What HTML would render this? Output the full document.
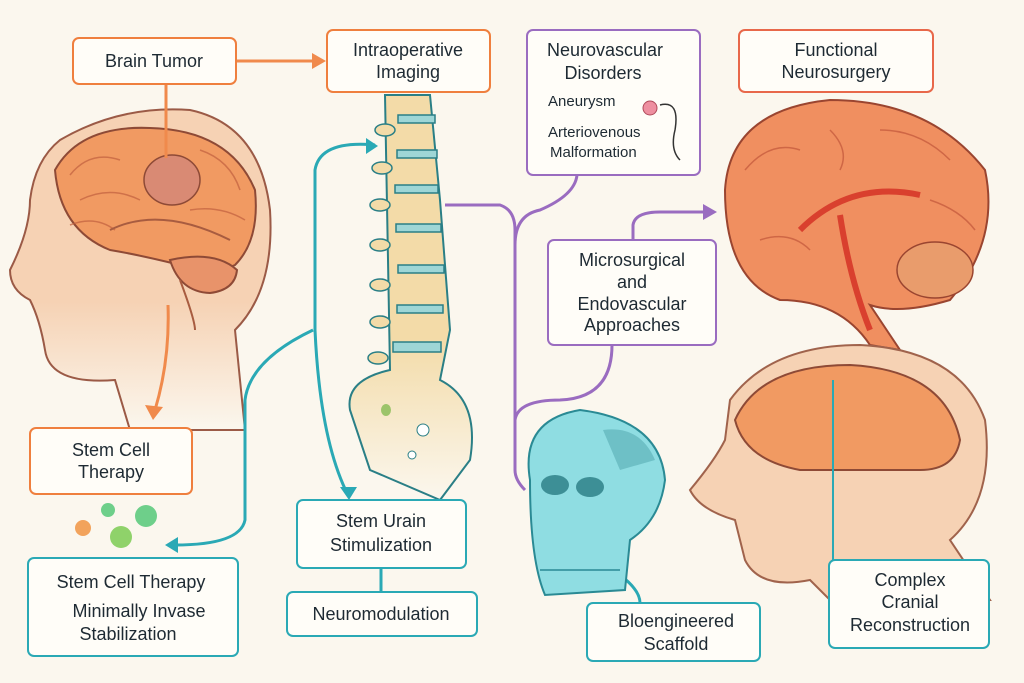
<!DOCTYPE html>
<html><head><meta charset="utf-8"><style>
html,body{margin:0;padding:0;background:#fbf7ee;}
svg{display:block}
text{font-family:"Liberation Sans",sans-serif;fill:#1e2a33;}
</style></head><body>
<svg width="1024" height="683" viewBox="0 0 1024 683" xmlns="http://www.w3.org/2000/svg">
<rect width="1024" height="683" fill="#fbf7ee"/>
<defs>
<linearGradient id="fadeL" x1="0" y1="0" x2="0" y2="1"><stop offset="0.6" stop-color="#f6d2b4"/><stop offset="1" stop-color="#fbf7ee"/></linearGradient>
<linearGradient id="fadeS" x1="0" y1="0" x2="0" y2="1"><stop offset="0.6" stop-color="#f3dba8"/><stop offset="1" stop-color="#fbf7ee"/></linearGradient>
</defs>
<!-- left head -->
<path d="M60 140 Q120 105 190 110 Q260 125 270 210 Q275 290 235 330 L245 430 L130 430 L115 380 Q50 385 45 350 Q40 320 30 300 Q10 290 10 270 Q30 230 30 200 Q35 160 60 140Z" fill="url(#fadeL)" stroke="#9b5a46" stroke-width="2"/>
<path d="M55 170 Q80 125 150 128 Q230 130 255 190 Q260 240 235 265 Q200 280 180 265 Q140 255 110 250 Q60 230 55 170Z" fill="#f19a62" stroke="#8e4a36" stroke-width="2"/>
<g stroke="#c0603e" stroke-width="1.5" fill="none" opacity="0.7">
<path d="M70 175 Q90 150 120 160 M80 200 Q110 185 140 200 M200 150 Q230 160 240 190 M190 210 Q220 205 245 220 M70 225 Q95 215 115 230"/>
</g>
<path d="M170 260 Q215 250 237 270 Q235 290 210 293 Q180 292 170 260Z" fill="#e8936a" stroke="#8e4a36" stroke-width="2"/>
<ellipse cx="172" cy="180" rx="28" ry="25" fill="#d98a74" stroke="#8e4a36" stroke-width="1.5"/>
<path d="M110 230 Q160 205 230 240" fill="none" stroke="#a85c40" stroke-width="2"/>
<path d="M180 280 Q195 320 195 330" stroke="#a85c40" stroke-width="2" fill="none"/>
<!-- orange connectors -->
<path d="M236 61 L320 61" stroke="#f08a4c" stroke-width="3" fill="none"/><path d="M312 53 L326 61 L312 69Z" fill="#f08a4c"/>
<path d="M166 84 L166 158" stroke="#f08a4c" stroke-width="3"/>
<path d="M168 305 Q170 360 155 410" stroke="#f08a4c" stroke-width="3" fill="none"/><path d="M145 405 L153 420 L163 407Z" fill="#f08a4c"/>
<!-- spine -->
<path d="M385 95 L430 95 L440 200 L450 330 L440 380 Q480 400 470 460 L440 500 L370 470 L350 410 Q345 380 390 370 Z" fill="url(#fadeS)" stroke="#2a7f86" stroke-width="2"/>
<g fill="#9ed6d6" stroke="#2a7f86" stroke-width="1.5">
<rect x="398" y="115" width="37" height="8"/><rect x="397" y="150" width="40" height="8"/><rect x="395" y="185" width="43" height="8"/><rect x="396" y="224" width="45" height="8"/><rect x="398" y="265" width="46" height="8"/><rect x="397" y="305" width="46" height="8"/><rect x="393" y="342" width="48" height="10"/>
</g>
<g fill="#f3dba8" stroke="#2a7f86" stroke-width="1.5">
<ellipse cx="385" cy="130" rx="10" ry="6"/><ellipse cx="382" cy="168" rx="10" ry="6"/><ellipse cx="380" cy="205" rx="10" ry="6"/><ellipse cx="380" cy="245" rx="10" ry="6"/><ellipse cx="380" cy="285" rx="10" ry="6"/><ellipse cx="380" cy="322" rx="10" ry="6"/><ellipse cx="378" cy="358" rx="10" ry="6"/>
</g>
<ellipse cx="386" cy="410" rx="5" ry="6" fill="#9cc46a"/><circle cx="423" cy="430" r="6" fill="#fff" stroke="#2a7f86"/><circle cx="412" cy="455" r="4" fill="#fff" stroke="#2a7f86"/>
<!-- teal connectors -->
<path d="M375 145 Q320 140 315 170 L315 330 Q320 440 348 495" stroke="#2aa9b5" stroke-width="3" fill="none"/><path d="M340 487 L349 500 L357 487Z" fill="#2aa9b5"/><path d="M366 138 L378 146 L366 154Z" fill="#2aa9b5"/>
<path d="M313 330 Q250 360 245 400 L245 520 Q240 545 175 545" stroke="#2aa9b5" stroke-width="3" fill="none"/><path d="M178 537 L165 545 L178 553Z" fill="#2aa9b5"/>
<path d="M381 568 L381 592" stroke="#2aa9b5" stroke-width="3"/>
<path d="M880 520 Q940 515 935 550" stroke="#2aa9b5" stroke-width="3" fill="none"/><path d="M927 545 L935 558 L943 545Z" fill="#2aa9b5"/>
<path d="M620 575 Q640 590 640 603" stroke="#2aa9b5" stroke-width="3" fill="none"/>
<!-- purple connectors -->
<path d="M445 205 L500 205 Q515 210 515 230 L515 470 Q515 480 525 490" stroke="#9a6cc0" stroke-width="3" fill="none"/>
<path d="M515 245 Q515 215 540 210 Q575 195 577 175" stroke="#9a6cc0" stroke-width="3" fill="none"/>
<path d="M515 420 Q518 400 560 400 Q612 398 612 345" stroke="#9a6cc0" stroke-width="3" fill="none"/>
<path d="M633 255 L633 225 Q635 212 660 212 L705 212" stroke="#9a6cc0" stroke-width="3" fill="none"/><path d="M703 204 L717 212 L703 220Z" fill="#9a6cc0"/>
<!-- skull -->
<path d="M530 480 Q520 420 580 410 Q660 420 665 480 Q660 520 630 540 L625 590 L545 595 Q530 560 530 480Z" fill="#8fdde2" stroke="#2a8a94" stroke-width="2"/>
<ellipse cx="555" cy="485" rx="14" ry="10" fill="#3d8f96"/><ellipse cx="590" cy="487" rx="14" ry="10" fill="#3d8f96"/>
<path d="M603 430 Q640 425 655 460 L620 470 Z" fill="#5fb3bb" opacity="0.7"/>
<path d="M540 570 L620 570" stroke="#2a8a94" stroke-width="1.5"/>
<!-- right top brain -->
<path d="M725 190 Q730 110 830 100 Q930 100 985 170 Q1000 240 950 300 Q900 315 870 305 L900 350 L870 345 Q840 300 780 300 Q725 280 725 190Z" fill="#f08f60" stroke="#9a4530" stroke-width="2"/>
<g stroke="#c0553a" stroke-width="1.5" fill="none" opacity="0.7">
<path d="M745 170 Q770 140 800 150 M760 240 Q790 230 810 250 M880 130 Q920 130 950 160 M930 200 Q960 210 975 230 M830 130 Q850 150 840 170"/>
</g>
<ellipse cx="935" cy="270" rx="38" ry="28" fill="#e99c6c" stroke="#9a4530" stroke-width="1.5"/>
<path d="M800 230 Q850 180 920 195 M840 215 Q850 280 870 330" stroke="#d9402e" stroke-width="6" fill="none"/>
<!-- right bottom head -->
<path d="M730 400 Q770 345 860 345 Q960 350 985 420 Q995 500 950 540 L990 600 L830 600 L810 580 Q760 590 745 560 L735 520 Q700 510 690 490 Q715 460 725 440 Z" fill="#f6d2b4" stroke="#a0634c" stroke-width="2"/>
<path d="M735 420 Q760 365 850 365 Q945 370 960 440 Q955 470 920 470 L800 470 Q745 460 735 420Z" fill="#f19a62" stroke="#8e4a36" stroke-width="2"/>
<path d="M833 380 L833 560" stroke="#2aa9b5" stroke-width="2"/>
<!-- boxes -->
<g fill="#fffdf8" stroke-width="2">
<rect x="73" y="38" width="163" height="46" rx="6" stroke="#ef7f3e"/>
<rect x="327" y="30" width="163" height="62" rx="6" stroke="#ef7f3e"/>
<rect x="527" y="30" width="173" height="145" rx="6" stroke="#9a6cc0"/>
<rect x="739" y="30" width="194" height="62" rx="6" stroke="#e8684a"/>
<rect x="548" y="240" width="168" height="105" rx="6" stroke="#9a6cc0"/>
<rect x="30" y="428" width="162" height="66" rx="6" stroke="#ef7f3e"/>
<rect x="28" y="558" width="210" height="98" rx="6" stroke="#2aa9b5"/>
<rect x="297" y="500" width="169" height="68" rx="6" stroke="#2aa9b5"/>
<rect x="287" y="592" width="190" height="44" rx="6" stroke="#2aa9b5"/>
<rect x="587" y="603" width="173" height="58" rx="6" stroke="#2aa9b5"/>
<rect x="829" y="560" width="160" height="88" rx="6" stroke="#2aa9b5"/>
</g>
<circle cx="650" cy="108" r="7" fill="#ee8fa0" stroke="#b04a5a"/>
<path d="M660 105 Q680 100 675 130 Q670 150 680 160" stroke="#333" stroke-width="1.5" fill="none"/>
<circle cx="83" cy="528" r="8" fill="#f2a35c"/><circle cx="108" cy="510" r="7" fill="#6ecf8a"/><circle cx="121" cy="537" r="11" fill="#8fd26a"/><circle cx="146" cy="516" r="11" fill="#6ecf8a"/>
<!-- text -->
<g font-size="18" text-anchor="middle">
<text x="154" y="67">Brain Tumor</text>
<text x="408" y="56">Intraoperative</text><text x="408" y="78">Imaging</text>
<text x="605" y="56">Neurovascular</text><text x="603" y="79">Disorders</text>
<text x="836" y="56">Functional</text><text x="836" y="78">Neurosurgery</text>
<text x="632" y="266">Microsurgical</text><text x="632" y="288">and</text><text x="632" y="310">Endovascular</text><text x="632" y="331">Approaches</text>
<text x="111" y="456">Stem Cell</text><text x="111" y="478">Therapy</text>
<text x="131" y="588">Stem Cell Therapy</text><text x="139" y="617">Minimally Invase</text><text x="128" y="640">Stabilization</text>
<text x="381" y="527">Stem Urain</text><text x="381" y="551">Stimulization</text>
<text x="381" y="620">Neuromodulation</text>
<text x="676" y="627">Bloengineered</text><text x="676" y="650">Scaffold</text>
<text x="910" y="586">Complex</text><text x="910" y="608">Cranial</text><text x="910" y="631">Reconstruction</text>
</g>
<g font-size="15">
<text x="548" y="106">Aneurysm</text><text x="548" y="137">Arteriovenous</text><text x="550" y="157">Malformation</text>
</g>
</svg>
</body></html>
